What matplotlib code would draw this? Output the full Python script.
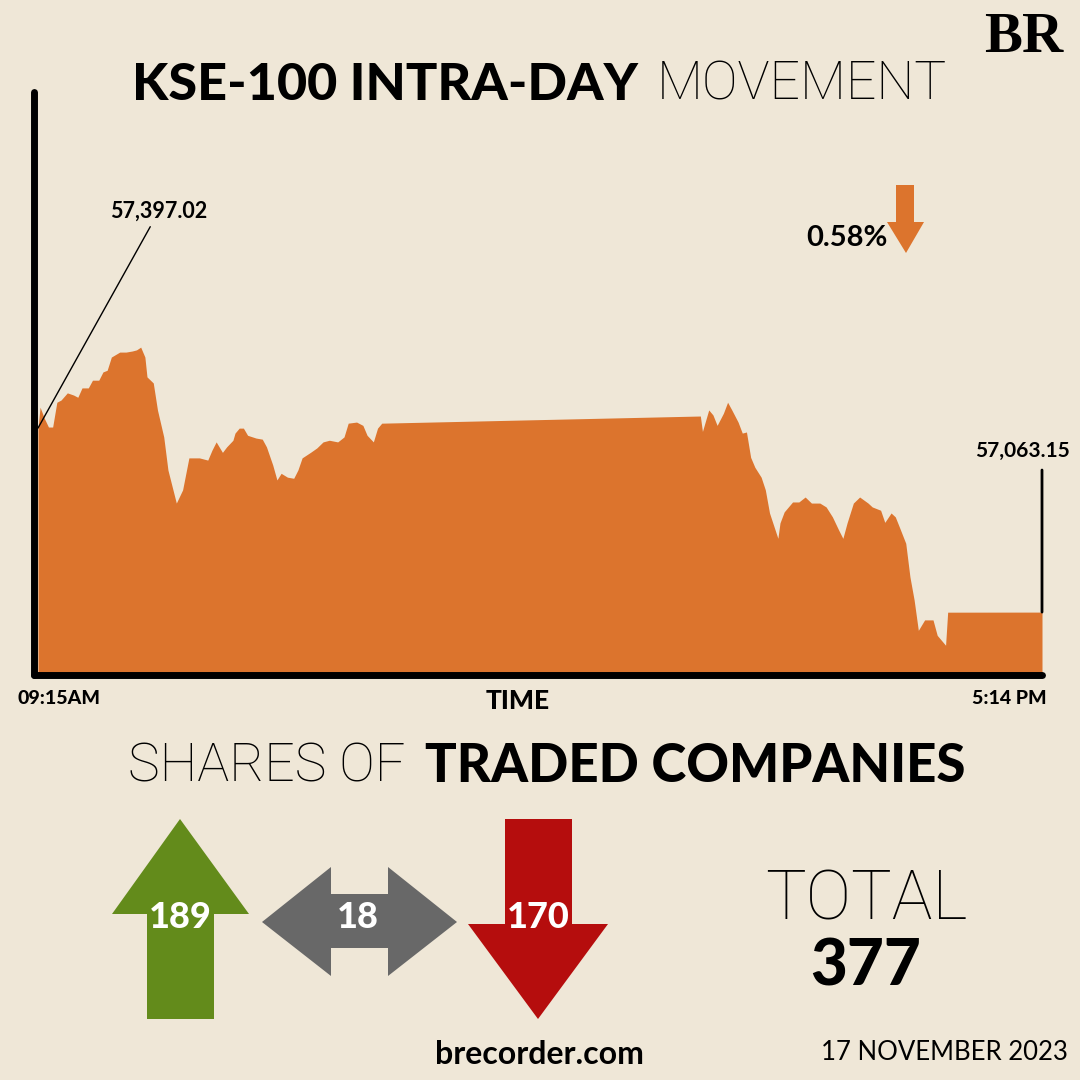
import matplotlib
matplotlib.use("Agg")
import matplotlib.pyplot as plt
from matplotlib.patches import Polygon

plt.rcParams['font.family'] = ['Lato', 'DejaVu Sans']
THIN = ['Roboto', 'DejaVu Sans']

# KSE-100, 17 Nov 2023: minutes after 09:15 and index level
minutes = [0, 1, 3, 5, 7, 9, 11, 14, 17, 19,
           21, 24, 26, 29, 31, 33, 35, 39, 42, 45,
           47, 49, 51, 52, 55, 57, 60, 62, 66, 69,
           72, 74, 77, 81, 83, 85, 88, 90, 93, 94,
           96, 98, 100, 104, 107, 109, 112, 114, 116, 119,
           122, 124, 126, 130, 133, 136, 139, 143, 146, 148,
           152, 155, 157, 160, 162, 164, 316, 317, 320, 322,
           324, 327, 329, 331, 334, 336, 338, 340, 342, 345,
           347, 349, 353, 354, 356, 360, 363, 366, 369, 373,
           376, 379, 382, 384, 386, 389, 392, 396, 398, 402,
           404, 407, 409, 411, 414, 416, 418, 420, 423, 427,
           429, 433, 434, 479]
index = [57397, 57435, 57415, 57399, 57399, 57444, 57448, 57461, 57457, 57453,
         57470, 57470, 57484, 57484, 57499, 57502, 57526, 57535, 57535, 57537,
         57539, 57544, 57526, 57490, 57479, 57430, 57381, 57321, 57261, 57285,
         57343, 57343, 57343, 57339, 57357, 57372, 57353, 57363, 57375, 57388,
         57397, 57397, 57384, 57379, 57377, 57363, 57330, 57303, 57315, 57308,
         57306, 57321, 57343, 57353, 57361, 57372, 57375, 57372, 57381, 57406,
         57408, 57402, 57384, 57372, 57397, 57406, 57419, 57391, 57430, 57421,
         57402, 57424, 57444, 57430, 57408, 57388, 57390, 57344, 57326, 57308,
         57285, 57243, 57197, 57225, 57245, 57263, 57263, 57272, 57261, 57261,
         57254, 57236, 57212, 57197, 57225, 57261, 57272, 57261, 57254, 57248,
         57226, 57243, 57236, 57217, 57188, 57127, 57085, 57030, 57049, 57049,
         57021, 57003, 57063, 57063.15]
prev_close = 57397.02
last_close = 57063.15
time_labels = ['09:15AM', '5:14 PM']

advances = 189
unchanged = 18
declines = 170
report_date = '17 NOVEMBER 2023'

BG = '#efe7d7'
ORANGE = '#dc742d'
GREEN = '#638b1b'
GREY = '#686868'
RED = '#b50d0d'

fig = plt.figure(figsize=(10.8, 10.8), dpi=100, facecolor=BG)

# overlay in pixel coordinates for texts and arrow shapes
deco = fig.add_axes([0, 0, 1, 1], zorder=0)
deco.set_xlim(0, 1080)
deco.set_ylim(1080, 0)
deco.axis('off')

ax = fig.add_axes([34/1080, 405/1080, 1008/1080, 583/1080], zorder=1)
ax.patch.set_alpha(0)
ax.fill_between(minutes, index, 56800, color=ORANGE, lw=0)
ax.set_xlim(-1.9, 479)
ax.set_ylim(56949, 58007)
ax.set_xticks([])
ax.set_yticks([])
for s in ['top', 'right']:
    ax.spines[s].set_visible(False)
for s in ['left', 'bottom']:
    ax.spines[s].set_linewidth(5)
    ax.spines[s].set_color('black')
    ax.spines[s].set_capstyle('round')

ax.annotate(f'{prev_close:,.2f}', xy=(minutes[0], prev_close),
            xytext=(159, 211), textcoords=deco.transData,
            ha='center', va='center', fontsize=15.5, fontweight='bold',
            arrowprops=dict(arrowstyle='-', lw=1, color='black',
                            relpos=(0.44, 0), shrinkA=2, shrinkB=0))
ax.annotate('', xy=(minutes[-1], last_close), xytext=(minutes[-1], 57321),
            arrowprops=dict(arrowstyle='-', lw=2, color='black',
                            shrinkA=0, shrinkB=0))
deco.text(1070, 451, f'{last_close:,.2f}', ha='right', va='center',
          fontsize=15, fontweight='bold')

change = (last_close - prev_close) / prev_close * 100
deco.text(888, 238, f'{abs(change):.2f}%', ha='right', va='center',
          fontsize=21, fontweight='bold')
deco.add_patch(Polygon([(896, 185), (914, 185), (914, 222), (924, 222),
                        (906, 253), (887, 222), (896, 222)],
                       closed=True, color=ORANGE, lw=0))

# titles
deco.text(638, 100, 'KSE-100 INTRA-DAY', ha='right', va='baseline',
          fontsize=37.5, fontweight='black')
deco.text(657, 100, 'MOVEMENT', ha='left', va='baseline',
          fontsize=38.5, fontweight='light', family=THIN)
deco.text(1024, 38, 'BR', ha='center', va='center', fontsize=41,
          fontweight='bold', family='Liberation Serif')

deco.text(18, 698, time_labels[0], ha='left', va='center',
          fontsize=14, fontweight='black')
deco.text(1047, 698, time_labels[1], ha='right', va='center',
          fontsize=14, fontweight='black')
deco.text(518, 701, 'TIME', ha='center', va='center',
          fontsize=19, fontweight='black')

deco.text(405, 782, 'SHARES OF', ha='right', va='baseline',
          fontsize=38.5, fontweight='light', family=THIN)
deco.text(425, 782, 'TRADED COMPANIES', ha='left', va='baseline',
          fontsize=38, fontweight='black')

# advance / unchanged / decline arrows
deco.add_patch(Polygon([(180, 819), (249, 914), (214, 914), (214, 1019),
                        (147, 1019), (147, 914), (112, 914)],
                       closed=True, color=GREEN, lw=0))
deco.add_patch(Polygon([(262, 922), (331, 867), (331, 894), (388, 894),
                        (388, 867), (457, 922), (388, 976), (388, 948),
                        (331, 948), (331, 976)],
                       closed=True, color=GREY, lw=0))
deco.add_patch(Polygon([(505, 819), (572, 819), (572, 924), (608, 924),
                        (538, 1019), (468, 924), (505, 924)],
                       closed=True, color=RED, lw=0))
for x, n in [(180, advances), (358, unchanged), (538, declines)]:
    deco.text(x, 918, str(n), ha='center', va='center', color='white',
              fontsize=26, fontweight='black')

deco.text(866, 920, 'TOTAL', ha='center', va='baseline',
          fontsize=49, fontweight='light', family=THIN)
deco.text(866, 985, str(advances + unchanged + declines), ha='center',
          va='baseline', fontsize=46, fontweight='black')

deco.text(539, 1055, 'brecorder.com', ha='center', va='center',
          fontsize=23, fontweight='bold')
deco.text(1068, 1053, report_date, ha='right', va='center',
          fontsize=18.5)

fig.savefig('out.png', dpi=100, facecolor=BG)
